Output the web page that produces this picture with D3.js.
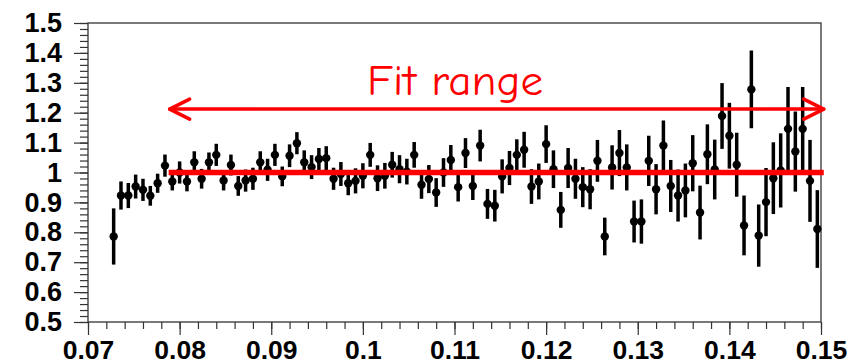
<!DOCTYPE html>
<html>
<head>
<meta charset="utf-8">
<script src="https://cdn.jsdelivr.net/npm/d3@7"></script>
<style>
  body { margin: 0; background: #fff; }
  svg { display: block; }
</style>
</head>
<body>
<script>
"use strict";

// bin centres: 0.0704 + 0.0008*i, first filled bin is i = 3
const binStart = 3;
const binWidth = 0.0008;
const ratio = [
  0.786, 0.923, 0.923, 0.953, 0.942, 0.922, 0.964, 1.023, 0.970, 1.000,
  0.970, 1.034, 0.979, 1.034, 1.059, 0.973, 1.025, 0.955, 0.973, 0.979,
  1.034, 1.009, 1.059, 0.987, 1.056, 1.098, 1.034, 1.018, 1.045, 1.048,
  0.979, 0.995, 0.964, 0.972, 0.989, 1.059, 0.981, 0.989, 1.026, 1.011,
  1.003, 1.059, 0.959, 0.978, 0.933, 1.000, 1.042, 0.951, 1.065, 0.955,
  1.090, 0.895, 0.889, 0.987, 1.015, 1.059, 1.076, 0.953, 0.970, 1.095,
  1.011, 0.875, 1.015, 0.979, 0.951, 0.944, 1.039, 0.786, 1.017, 1.065,
  1.017, 0.836, 0.836, 1.039, 0.944, 1.090, 0.955, 0.923, 0.940, 1.031,
  0.866, 1.061, 1.010, 1.189, 1.123, 1.026, 0.823, 1.278, 0.789, 0.901,
  0.981, 1.007, 1.146, 1.070, 1.146, 0.972, 0.811
];
const ratioErr = [
  0.094, 0.047, 0.042, 0.040, 0.037, 0.033, 0.032, 0.037, 0.030, 0.037,
  0.033, 0.037, 0.033, 0.033, 0.037, 0.033, 0.035, 0.033, 0.037, 0.037,
  0.037, 0.037, 0.037, 0.033, 0.038, 0.037, 0.040, 0.040, 0.037, 0.040,
  0.037, 0.040, 0.040, 0.042, 0.042, 0.040, 0.043, 0.043, 0.043, 0.047,
  0.043, 0.043, 0.047, 0.047, 0.048, 0.048, 0.050, 0.048, 0.050, 0.047,
  0.053, 0.050, 0.053, 0.057, 0.057, 0.052, 0.060, 0.058, 0.060, 0.063,
  0.063, 0.060, 0.067, 0.067, 0.067, 0.067, 0.070, 0.063, 0.074, 0.077,
  0.077, 0.070, 0.074, 0.084, 0.084, 0.084, 0.087, 0.087, 0.090, 0.094,
  0.090, 0.100, 0.100, 0.110, 0.110, 0.107, 0.100, 0.130, 0.104, 0.114,
  0.120, 0.124, 0.140, 0.134, 0.140, 0.137, 0.130
];

const xTicks = [0.07, 0.08, 0.09, 0.1, 0.11, 0.12, 0.13, 0.14, 0.15];
const xLabels = ["0.07", "0.08", "0.09", "0.1", "0.11", "0.12", "0.13", "0.14", "0.15"];
const yTicks = [0.5, 0.6, 0.7, 0.8, 0.9, 1, 1.1, 1.2, 1.3, 1.4, 1.5];
const yLabels = ["0.5", "0.6", "0.7", "0.8", "0.9", "1", "1.1", "1.2", "1.3", "1.4", "1.5"];

const fitRange = [0.0788, 0.1503];
const fitValue = 1.0;
const arrowLevel = 1.212;
const fitLabel = "Fit range";

const width = 864, height = 364;
const margin = { top: 23, right: 43, bottom: 42, left: 88 };

const points = ratio.map((v, k) => ({
  x: 0.0704 + binWidth * (binStart + k),
  y: v,
  e: ratioErr[k],
}));

const x = d3.scaleLinear([0.07, 0.15], [margin.left, width - margin.right]);
const y = d3.scaleLinear([0.5, 1.5], [height - margin.bottom, margin.top]);

const svg = d3.select("body").append("svg")
  .attr("width", width)
  .attr("height", height);

const labelFont = "'Liberation Sans', Arial, Helvetica, sans-serif";

// minor ticks
const xMinor = d3.range(0, 41).map((k) => 0.07 + k * 0.002);
const yMinor = d3.range(0, 51).map((k) => 0.5 + k * 0.02);

svg.append("g")
  .attr("transform", `translate(0,${y(0.5)})`)
  .call(d3.axisBottom(x).tickValues(xMinor).tickSize(7).tickSizeOuter(0).tickFormat(""))
  .call((g) => g.select(".domain").remove())
  .selectAll("line").attr("stroke", "#333").attr("stroke-width", 1.2);

svg.append("g")
  .attr("transform", `translate(${x(0.07)},0)`)
  .call(d3.axisLeft(y).tickValues(yMinor).tickSize(8).tickSizeOuter(0).tickFormat(""))
  .call((g) => g.select(".domain").remove())
  .selectAll("line").attr("stroke", "#333").attr("stroke-width", 1.2);

// major ticks + labels
svg.append("g")
  .attr("transform", `translate(0,${y(0.5)})`)
  .call(d3.axisBottom(x).tickValues(xTicks).tickSize(13).tickSizeOuter(0).tickPadding(5)
    .tickFormat((d, i) => xLabels[i]))
  .call((g) => g.select(".domain").remove())
  .call((g) => g.selectAll("line").attr("stroke", "#333").attr("stroke-width", 1.2))
  .call((g) => g.selectAll("text")
    .attr("fill", "#000")
    .attr("font-family", labelFont)
    .attr("font-weight", "bold")
    .attr("font-size", 26.5));

svg.append("g")
  .attr("transform", `translate(${x(0.07)},0)`)
  .call(d3.axisLeft(y).tickValues(yTicks).tickSize(14).tickSizeOuter(0).tickPadding(12)
    .tickFormat((d, i) => yLabels[i]))
  .call((g) => g.select(".domain").remove())
  .call((g) => g.selectAll("line").attr("stroke", "#333").attr("stroke-width", 1.2))
  .call((g) => g.selectAll("text")
    .attr("fill", "#000")
    .attr("font-family", labelFont)
    .attr("font-weight", "bold")
    .attr("font-size", 27));

// frame
svg.append("rect")
  .attr("x", x(0.07))
  .attr("y", y(1.5))
  .attr("width", x(0.15) - x(0.07))
  .attr("height", y(0.5) - y(1.5))
  .attr("fill", "none")
  .attr("stroke", "#333")
  .attr("stroke-width", 1.3);

// data points with error bars
const pts = svg.append("g").selectAll("g")
  .data(points)
  .join("g");

pts.append("line")
  .attr("x1", (d) => x(d.x))
  .attr("x2", (d) => x(d.x))
  .attr("y1", (d) => y(d.y - d.e))
  .attr("y2", (d) => y(d.y + d.e))
  .attr("stroke", "#000")
  .attr("stroke-width", 3.5);

pts.append("circle")
  .attr("cx", (d) => x(d.x))
  .attr("cy", (d) => y(d.y))
  .attr("r", 4.2)
  .attr("fill", "#000");

// fit line
svg.append("line")
  .attr("x1", x(fitRange[0]))
  .attr("x2", x(fitRange[1]))
  .attr("y1", y(fitValue))
  .attr("y2", y(fitValue))
  .attr("stroke", "#ff0000")
  .attr("stroke-width", 5.5);

// double arrow for the fit range
const ay = y(arrowLevel);
const ax0 = x(fitRange[0]) + 1, ax1 = x(fitRange[1]);
const arrow = svg.append("g")
  .attr("stroke", "#ff0000")
  .attr("stroke-width", 3.5)
  .attr("fill", "none")
  .attr("stroke-linecap", "round")
  .attr("stroke-linejoin", "round");

arrow.append("line")
  .attr("x1", ax0).attr("x2", ax1)
  .attr("y1", ay).attr("y2", ay);

arrow.append("path")
  .attr("d", d3.line()([[ax0 + 20, ay - 10], [ax0, ay], [ax0 + 20, ay + 10]]));
arrow.append("path")
  .attr("d", d3.line()([[ax1 - 20, ay - 10], [ax1, ay], [ax1 - 20, ay + 10]]));

svg.append("text")
  .attr("x", 367)
  .attr("y", 95)
  .attr("fill", "#ff0000")
  .attr("font-family", "'Comic Sans MS', 'Comic Neue', 'DejaVu Sans', sans-serif")
  .attr("font-size", 42)
  .attr("textLength", 176)
  .attr("lengthAdjust", "spacingAndGlyphs")
  .text(fitLabel);
</script>
</body>
</html>
